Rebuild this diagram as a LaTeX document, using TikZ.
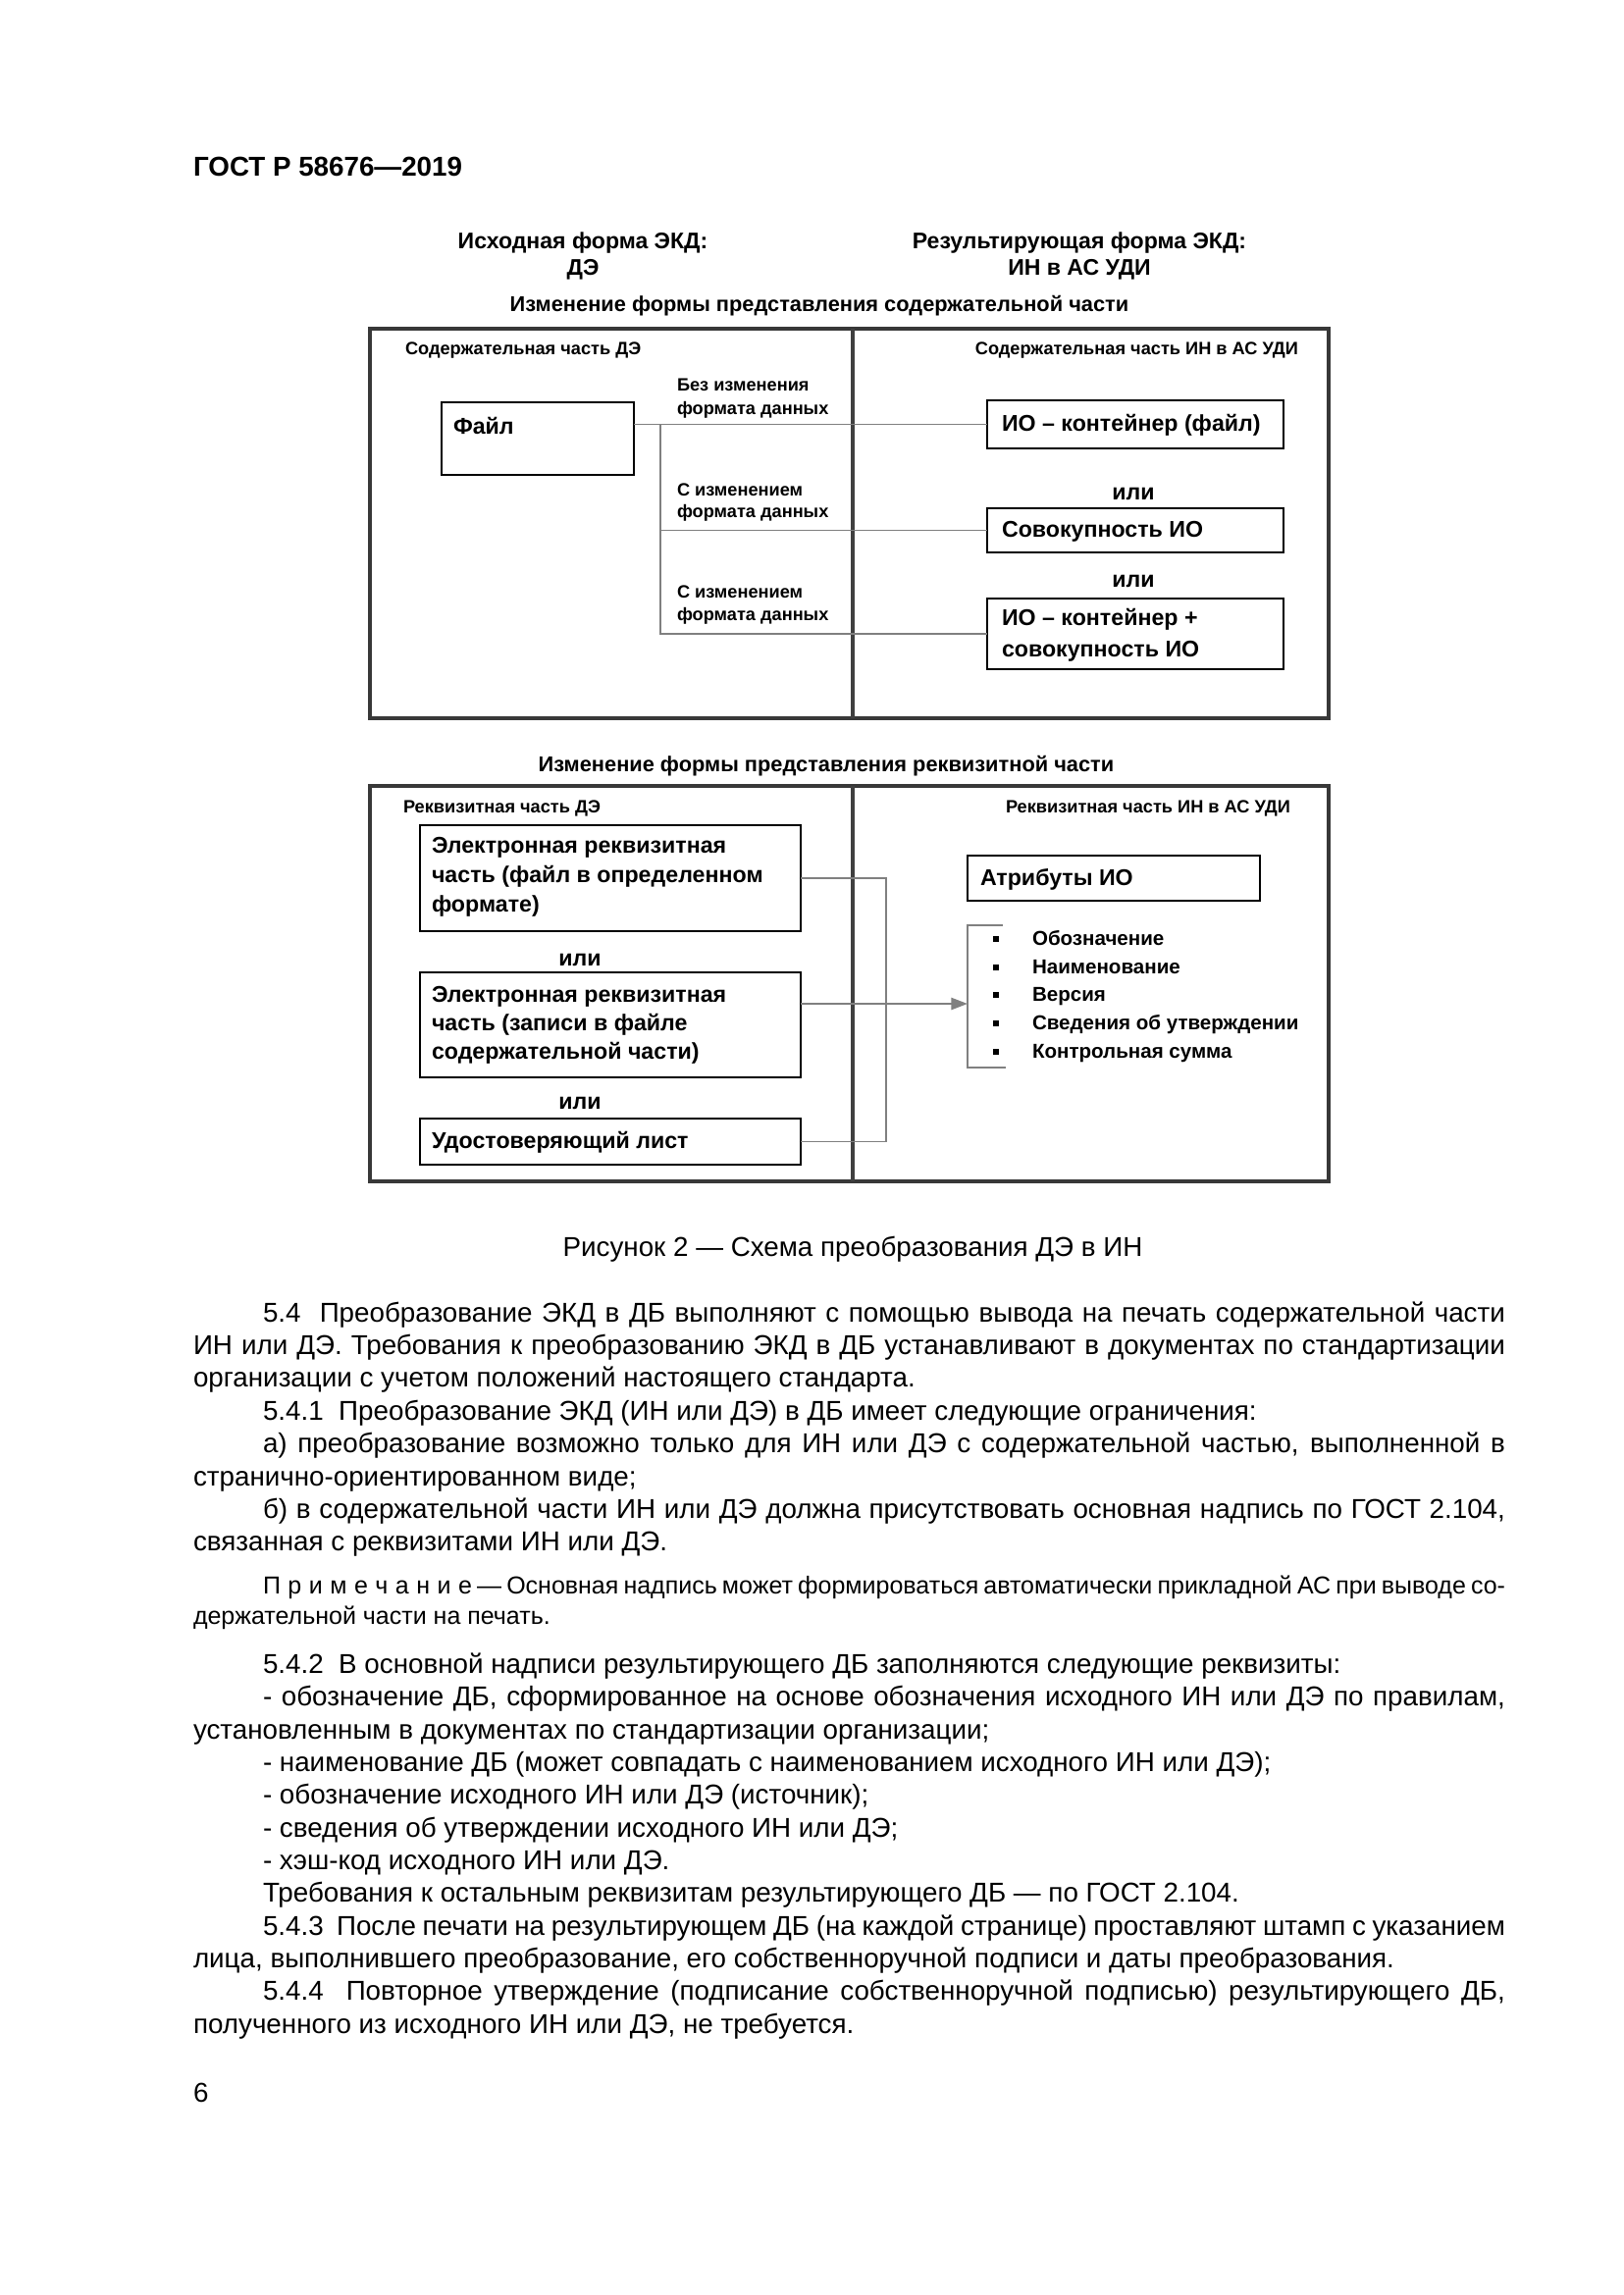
\documentclass[tikz,border=0pt]{standalone}
\usepackage{fontspec}
\setmainfont{Liberation Sans}
\usetikzlibrary{fit,arrows.meta}
\newcommand\fbody{\fontsize{10pt}{12pt}\selectfont}
\newcommand\fnote{\fontsize{9pt}{11pt}\selectfont}
\newcommand\fhead{\fontsize{8.3pt}{10pt}\selectfont\bfseries}
\newcommand\ftitle{\fontsize{7.85pt}{9.5pt}\selectfont\bfseries}
\newcommand\fbig{\fontsize{8.35pt}{10pt}\selectfont\bfseries}
\newcommand\fsm{\fontsize{6.55pt}{7.8pt}\selectfont\bfseries}
\newcommand\flist{\fontsize{7.4pt}{9pt}\selectfont\bfseries}
\newcommand\fpg{\fontsize{10pt}{12pt}\selectfont\bfseries}
\newcommand\lsp{\hspace{0.3em}}
\newcommand\myjline[4]{\node[txt,font=\fbody] (#1) at (#2,#3) {\makebox[\dimexpr0.36pt*(1534-#2)\relax][s]{#4}};}
\newcommand\mynline[4]{\node[txt,font=\fbody] (#1) at (#2,#3) {#4};}
\begin{document}
\begin{tikzpicture}[x=0.36pt,y=-0.36pt,
  txt/.style={inner sep=0pt,outer sep=0pt,anchor=base west},
  ctxt/.style={inner sep=0pt,outer sep=0pt,anchor=base},
  rtxt/.style={inner sep=0pt,outer sep=0pt,anchor=base east},
  frame/.style={draw=black!78,line width=1.45pt,inner sep=0pt,outer sep=0pt},
  box/.style={draw=black,line width=0.85pt,inner sep=0pt,outer sep=0pt},
  conn/.style={draw=black!50,line width=0.7pt},
  divider/.style={draw=black!75,line width=1.2pt},
  bullet/.style={fill=black,inner sep=0pt,minimum size=2pt,rectangle}]
\fill[white] (0,0) rectangle (1654,2339);
\useasboundingbox (0,0) rectangle (1654,2339);

% page header
\node[txt,font=\fpg] (hdr) at (197,179) {ГОСТ Р 58676—2019};

% figure headers
\node[ctxt,font=\fhead] (h1a) at (594,253) {Исходная форма ЭКД:};
\node[ctxt,font=\fhead] (h1b) at (594,280) {ДЭ};
\node[ctxt,font=\fhead] (h2a) at (1100,253) {Результирующая форма ЭКД:};
\node[ctxt,font=\fhead] (h2b) at (1100,280) {ИН в АС УДИ};
\node[ctxt,font=\ftitle] (t1) at (835,317) {Изменение формы представления содержательной части};
\node[ctxt,font=\ftitle] (t2) at (842,786) {Изменение формы представления реквизитной части};

% frames
\node[frame,fit={(377,335)(1354,732)}] (f1) {};
\node[frame,fit={(377,801)(1354,1204)}] (f2) {};
\draw[divider] (869,335) -- (869,732);
\draw[divider] (869,801) -- (869,1204);

% frame 1 contents
\node[txt,font=\fsm] (s1l) at (413,361) {Содержательная часть ДЭ};
\node[rtxt,font=\fsm] (s1r) at (1323,361) {Содержательная часть ИН в АС УДИ};

\node[box,fit={(450,410)(646,484)}] (file) {};
\node[txt,font=\fbig] (filet) at (462,442) {Файл};

\node[box,fit={(1006,408)(1308,457)}] (ioc) {};
\node[txt,font=\fbig] (ioct) at (1021,439) {ИО – контейнер (файл)};
\node[ctxt,font=\fbig] (or1) at (1155,509) {или};
\node[box,fit={(1006,518)(1308,563)}] (sov) {};
\node[txt,font=\fbig] (sovt) at (1021,547) {Совокупность ИО};
\node[ctxt,font=\fbig] (or2) at (1155,598) {или};
\node[box,fit={(1006,610)(1308,682)}] (ioc2) {};
\node[txt,font=\fbig] (ioc2a) at (1021,637) {ИО – контейнер +};
\node[txt,font=\fbig] (ioc2b) at (1021,669) {совокупность ИО};

\node[txt,font=\fsm] (lb1a) at (690,398) {Без изменения};
\node[txt,font=\fsm] (lb1b) at (690,422) {формата данных};
\node[txt,font=\fsm] (lb2a) at (690,505) {С изменением};
\node[txt,font=\fsm] (lb2b) at (690,527) {формата данных};
\node[txt,font=\fsm] (lb3a) at (690,609) {С изменением};
\node[txt,font=\fsm] (lb3b) at (690,632) {формата данных};

\coordinate (br) at (673,432);
\draw[conn] (file.east |- ioc.west) -- (ioc.west);
\draw[conn] (br) |- (sov.west);
\draw[conn] (br) |- (ioc2.west);

% frame 2 contents
\node[txt,font=\fsm] (s2l) at (411,828) {Реквизитная часть ДЭ};
\node[rtxt,font=\fsm] (s2r) at (1315,828) {Реквизитная часть ИН в АС УДИ};

\node[box,fit={(428,841)(816,949)}] (el1) {};
\node[txt,font=\fbig] (el1a) at (440,869) {Электронная реквизитная};
\node[txt,font=\fbig] (el1b) at (440,899) {часть (файл в определенном};
\node[txt,font=\fbig] (el1c) at (440,929) {формате)};
\node[ctxt,font=\fbig] (or3) at (591,984) {или};
\node[box,fit={(428,991)(816,1098)}] (el2) {};
\node[txt,font=\fbig] (el2a) at (440,1021) {Электронная реквизитная};
\node[txt,font=\fbig] (el2b) at (440,1050) {часть (записи в файле};
\node[txt,font=\fbig] (el2c) at (440,1079) {содержательной части)};
\node[ctxt,font=\fbig] (or4) at (591,1130) {или};
\node[box,fit={(428,1140)(816,1187)}] (ud) {};
\node[txt,font=\fbig] (udt) at (440,1170) {Удостоверяющий лист};

\node[box,fit={(986,872)(1284,918)}] (attr) {};
\node[txt,font=\fbig] (attrt) at (999,902) {Атрибуты ИО};

\draw[conn] (1022,943) -- (986,943) -- (986,1088) -- (1025,1088);
\coordinate (brk) at (986,1023);
\node[bullet] (b1) at (1015,957) {};
\node[bullet] (b2) at (1015,986) {};
\node[bullet] (b3) at (1015,1014) {};
\node[bullet] (b4) at (1015,1043) {};
\node[bullet] (b5) at (1015,1072) {};
\node[txt,font=\flist] (i1) at (1052,963) {Обозначение};
\node[txt,font=\flist] (i2) at (1052,992) {Наименование};
\node[txt,font=\flist] (i3) at (1052,1020) {Версия};
\node[txt,font=\flist] (i4) at (1052,1049) {Сведения об утверждении};
\node[txt,font=\flist] (i5) at (1052,1078) {Контрольная сумма};

\coordinate (j1) at (903,895);
\draw[conn] (el1.east) -- (j1) |- (ud.east);
\draw[conn,-{Triangle[length=6pt,width=4.4pt]}] (el2.east |- brk) -- (brk);

% caption
\node[ctxt,font=\fbody] (cap) at (869,1280) {Рисунок 2 — Схема преобразования ДЭ в ИН};

% body text
\myjline{L1}{268}{1347}{5.4\ \ Преобразование ЭКД в ДБ выполняют с помощью вывода на печать содержательной части}
\myjline{L2}{197}{1380}{ИН или ДЭ. Требования к преобразованию ЭКД в ДБ устанавливают в документах по стандартизации}
\mynline{L3}{197}{1413}{организации с учетом положений настоящего стандарта.}
\mynline{L4}{268}{1447}{5.4.1\ \ Преобразование ЭКД (ИН или ДЭ) в ДБ имеет следующие ограничения:}
\myjline{L5}{268}{1480}{а) преобразование возможно только для ИН или ДЭ с содержательной частью, выполненной в}
\mynline{L6}{197}{1514}{странично-ориентированном виде;}
\myjline{L7}{268}{1547}{б) в содержательной части ИН или ДЭ должна присутствовать основная надпись по ГОСТ 2.104,}
\mynline{L8}{197}{1580}{связанная с реквизитами ИН или ДЭ.}
\node[txt,font=\fnote] (N1) at (268,1624) {\makebox[\dimexpr0.36pt*(1534-268)\relax][s]{П\lsp р\lsp и\lsp м\lsp е\lsp ч\lsp а\lsp н\lsp и\lsp е — Основная надпись может формироваться автоматически прикладной АС при выводе со-}};
\node[txt,font=\fnote] (N2) at (197,1655) {держательной части на печать.};
\mynline{L9}{268}{1705}{5.4.2\ \ В основной надписи результирующего ДБ заполняются следующие реквизиты:}
\myjline{L10}{268}{1738}{- обозначение ДБ, сформированное на основе обозначения исходного ИН или ДЭ по правилам,}
\mynline{L11}{197}{1772}{установленным в документах по стандартизации организации;}
\mynline{L12}{268}{1805}{- наименование ДБ (может совпадать с наименованием исходного ИН или ДЭ);}
\mynline{L13}{268}{1838}{- обозначение исходного ИН или ДЭ (источник);}
\mynline{L14}{268}{1872}{- сведения об утверждении исходного ИН или ДЭ;}
\mynline{L15}{268}{1905}{- хэш-код исходного ИН или ДЭ.}
\mynline{L16}{268}{1938}{Требования к остальным реквизитам результирующего ДБ — по ГОСТ 2.104.}
\myjline{L17}{268}{1972}{5.4.3\ \ После печати на результирующем ДБ (на каждой странице) проставляют штамп с указанием}
\mynline{L18}{197}{2005}{лица, выполнившего преобразование, его собственноручной подписи и даты преобразования.}
\myjline{L19}{268}{2038}{5.4.4\ \ Повторное утверждение (подписание собственноручной подписью) результирующего ДБ,}
\mynline{L20}{197}{2072}{полученного из исходного ИН или ДЭ, не требуется.}
\mynline{pg}{197}{2142}{6}
\end{tikzpicture}
\end{document}
